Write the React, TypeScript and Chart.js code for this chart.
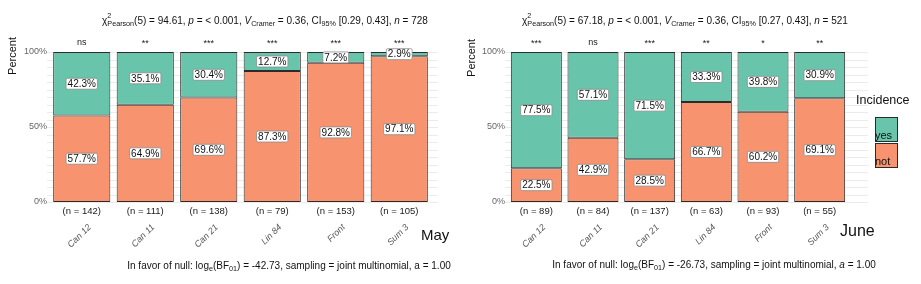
import React, { useEffect, useRef } from 'react';
import { Chart, registerables } from 'chart.js';

Chart.register(...registerables);

// ---------- data ----------
const categories = ['Can 12', 'Can 11', 'Can 21', 'Lin 84', 'Front', 'Sum 3'];
const seriesNames = ['not', 'yes'];
const mayNot = [57.7, 64.9, 69.6, 87.3, 92.8, 97.1];
const mayYes = [42.3, 35.1, 30.4, 12.7, 7.2, 2.9];
const mayCounts = [142, 111, 138, 79, 153, 105];
const maySig = ['ns', '**', '***', '***', '***', '***'];
const juneNot = [22.5, 42.9, 28.5, 66.7, 60.2, 69.1];
const juneYes = [77.5, 57.1, 71.5, 33.3, 39.8, 30.9];
const juneCounts = [89, 84, 137, 63, 93, 55];
const juneSig = ['***', 'ns', '***', '**', '*', '**'];
const yTickLabels = [0, 50, 100];
const yGridSteps = [0, 5, 10, 15, 20, 25, 30, 35, 40, 45, 50, 55, 60, 65, 70, 75, 80, 85, 90, 95, 100];
const mayStats = ['94.61', '< 0.001', '0.36', '[0.29, 0.43]', '728', '-42.73', '1.00'];
const juneStats = ['67.18', '< 0.001', '0.36', '[0.27, 0.43]', '521', '-26.73', '1.00'];

const GREEN = '#68C4AA';
const ORANGE = '#F7936F';
const EDGE = '#2b2b2b';
const FAMILY = '"Liberation Sans", Arial, Helvetica, sans-serif';

type Run = { t: string; s?: 'i' | 'sub' | 'ss'; sup?: string };

function titleRuns(st: string[]): Run[] {
  return [
    { t: 'χ' },
    { t: 'Pearson', s: 'ss', sup: '2' },
    { t: `(5) = ${st[0]}, ` },
    { t: 'p', s: 'i' },
    { t: ` = ${st[1]}, ` },
    { t: 'V', s: 'i' },
    { t: 'Cramer', s: 'sub' },
    { t: ` = ${st[2]}, CI` },
    { t: '95%', s: 'sub' },
    { t: ` ${st[3]}, ` },
    { t: 'n', s: 'i' },
    { t: ` = ${st[4]}` },
  ];
}

function captionRuns(st: string[], italicA: boolean): Run[] {
  return [
    { t: 'In favor of null: log' },
    { t: 'e', s: 'sub' },
    { t: '(BF' },
    { t: '01', s: 'sub' },
    { t: `) = ${st[5]}, sampling = joint multinomial, ` },
    { t: 'a', s: italicA ? 'i' : undefined },
    { t: ` = ${st[6]}` },
  ];
}

function drawRuns(ctx: CanvasRenderingContext2D, runs: Run[], cx: number, cy: number, size: number, color: string) {
  const subSize = size * 0.72;
  const f = (it: boolean, sz: number) => `${it ? 'italic ' : ''}${sz}px ${FAMILY}`;
  const widths = runs.map((r) => {
    if (r.s === 'sub') { ctx.font = f(false, subSize); return ctx.measureText(r.t).width; }
    if (r.s === 'ss') {
      ctx.font = f(false, subSize);
      return Math.max(ctx.measureText(r.t).width, ctx.measureText(r.sup || '').width);
    }
    ctx.font = f(r.s === 'i', size);
    return ctx.measureText(r.t).width;
  });
  const total = widths.reduce((a, b) => a + b, 0);
  let x = cx - total / 2;
  ctx.save();
  ctx.fillStyle = color;
  ctx.textBaseline = 'middle';
  ctx.textAlign = 'left';
  runs.forEach((r, i) => {
    if (r.s === 'sub') {
      ctx.font = f(false, subSize);
      ctx.fillText(r.t, x, cy + size * 0.3);
    } else if (r.s === 'ss') {
      ctx.font = f(false, subSize);
      ctx.fillText(r.t, x, cy + size * 0.3);
      ctx.fillText(r.sup || '', x, cy - size * 0.5);
    } else {
      ctx.font = f(r.s === 'i', size);
      ctx.fillText(r.t, x, cy);
    }
    x += widths[i];
  });
  ctx.restore();
}

type Decor = {
  title: Run[];
  titleX: number;
  titleY: number;
  caption: Run[];
  captionX: number;
  captionY: number;
  month: string;
  monthX: number;
  monthY: number;
  monthSize: number;
  percentX: number;
  percentY: number;
  gridRightExtra: number;
  counts: number[];
  sig: string[];
  legend: boolean;
};

function makePlugin(d: Decor) {
  return {
    id: 'decor',
    beforeDatasetsDraw(chart: any) {
      const ctx: CanvasRenderingContext2D = chart.ctx;
      const y = chart.scales.y;
      const a = chart.chartArea;
      ctx.save();
      ctx.strokeStyle = '#e6e6e6';
      ctx.lineWidth = 0.8;
      y.ticks.forEach((t: any) => {
        const py = Math.round(y.getPixelForValue(t.value)) + 0.5;
        ctx.beginPath();
        ctx.moveTo(a.left - 3, py);
        ctx.lineTo(a.right + d.gridRightExtra, py);
        ctx.stroke();
      });
      ctx.restore();
    },
    afterDatasetsDraw(chart: any) {
      const ctx: CanvasRenderingContext2D = chart.ctx;
      const a = chart.chartArea;
      const xs = chart.scales.x;
      // data labels
      chart.data.datasets.forEach((ds: any, di: number) => {
        const meta = chart.getDatasetMeta(di);
        meta.data.forEach((el: any, i: number) => {
          const v = ds.data[i];
          const cy = (el.y + el.base) / 2;
          const txt = `${v.toFixed(1)}%`;
          ctx.save();
          ctx.font = `10px ${FAMILY}`;
          const w = ctx.measureText(txt).width + 3;
          const h = 11;
          const bx = el.x - w / 2;
          const by = cy - h / 2;
          ctx.fillStyle = '#ffffff';
          ctx.strokeStyle = '#8a8a8a';
          ctx.lineWidth = 0.8;
          ctx.beginPath();
          (ctx as any).roundRect(bx, by, w, h, 1.5);
          ctx.fill();
          ctx.stroke();
          ctx.fillStyle = '#111';
          ctx.textAlign = 'center';
          ctx.textBaseline = 'middle';
          ctx.fillText(txt, el.x, cy + 0.5);
          ctx.restore();
        });
      });
      // significance and counts
      ctx.save();
      ctx.fillStyle = '#1a1a1a';
      ctx.textAlign = 'center';
      ctx.textBaseline = 'middle';
      categories.forEach((_, i) => {
        const px = xs.getPixelForValue(i);
        ctx.font = `9px ${FAMILY}`;
        ctx.fillText(d.sig[i], px, a.top - (d.sig[i] === 'ns' ? 9 : 8));
        ctx.font = `9.5px ${FAMILY}`;
        ctx.fillText(`(n = ${d.counts[i]})`, px, a.bottom + 9);
      });
      ctx.restore();
    },
    afterDraw(chart: any) {
      const ctx: CanvasRenderingContext2D = chart.ctx;
      drawRuns(ctx, d.title, d.titleX, d.titleY, 10, '#111');
      drawRuns(ctx, d.caption, d.captionX, d.captionY, 10, '#111');
      ctx.save();
      ctx.fillStyle = '#111';
      ctx.font = `${d.monthSize}px ${FAMILY}`;
      ctx.textAlign = 'left';
      ctx.textBaseline = 'middle';
      ctx.fillText(d.month, d.monthX, d.monthY);
      ctx.translate(d.percentX, d.percentY);
      ctx.rotate(-Math.PI / 2);
      ctx.font = `11px ${FAMILY}`;
      ctx.textAlign = 'center';
      ctx.fillText('Percent', 0, 0);
      ctx.restore();
      if (d.legend) {
        ctx.save();
        ctx.fillStyle = '#111';
        ctx.font = `12.5px ${FAMILY}`;
        ctx.textBaseline = 'middle';
        ctx.textAlign = 'left';
        ctx.fillText('Incidence', 396, 101);
        const items = [
          { label: seriesNames[1], color: GREEN, top: 117 },
          { label: seriesNames[0], color: ORANGE, top: 143 },
        ];
        items.forEach((it) => {
          ctx.fillStyle = it.color;
          ctx.fillRect(415, it.top, 22, 24);
          ctx.strokeStyle = EDGE;
          ctx.lineWidth = 1;
          ctx.strokeRect(415.5, it.top + 0.5, 22, 24);
          ctx.fillStyle = '#111';
          ctx.font = `11px ${FAMILY}`;
          ctx.textBaseline = 'alphabetic';
          ctx.fillText(it.label, 415, it.top + 22);
        });
        ctx.restore();
      }
    },
  };
}

function makeConfig(notV: number[], yesV: number[], leftW: number, rightEdge: number, canvasW: number, d: Decor): any {
  const ds = (label: string, data: number[], color: string) => ({
    label,
    data,
    backgroundColor: color,
    borderColor: EDGE,
    borderWidth: 1,
    borderSkipped: false,
    barPercentage: 0.9,
    categoryPercentage: 1,
  });
  return {
    type: 'bar',
    data: {
      labels: categories,
      datasets: [ds(seriesNames[0], notV, ORANGE), ds(seriesNames[1], yesV, GREEN)],
    },
    options: {
      animation: false,
      responsive: false,
      maintainAspectRatio: false,
      layout: { padding: { top: 52, right: canvasW - rightEdge, left: 0, bottom: 0 } },
      plugins: { legend: { display: false }, tooltip: { enabled: false }, title: { display: false } },
      scales: {
        x: {
          stacked: true,
          offset: true,
          grid: { display: false, drawTicks: false },
          border: { display: false },
          ticks: {
            autoSkip: false,
            maxRotation: 45,
            minRotation: 45,
            padding: 20,
            labelOffset: 8,
            color: '#5a5a5a',
            font: { family: FAMILY, size: 9, style: 'italic' },
          },
          afterFit: (s: any) => { s.height = 284 - 202; },
        },
        y: {
          stacked: true,
          min: 0,
          max: 100,
          grid: { display: false, drawTicks: false },
          border: { display: false },
          afterBuildTicks: (s: any) => { s.ticks = yGridSteps.map((v) => ({ value: v })); },
          ticks: {
            autoSkip: false,
            padding: 3,
            color: '#666',
            font: { family: FAMILY, size: 9 },
            callback: (v: any) => (yTickLabels.includes(Number(v)) ? `${v}%` : ''),
          },
          afterFit: (s: any) => { s.width = leftW; },
        },
      },
    },
    plugins: [makePlugin(d)],
  };
}

export default function App() {
  const leftRef = useRef<HTMLCanvasElement>(null);
  const rightRef = useRef<HTMLCanvasElement>(null);
  useEffect(() => {
    document.body.style.margin = '0';
    const c1 = new Chart(leftRef.current as HTMLCanvasElement, makeConfig(mayNot, mayYes, 50, 431, 460, {
      title: titleRuns(mayStats), titleX: 265, titleY: 21,
      caption: captionRuns(mayStats, false), captionX: 289, captionY: 266,
      month: 'May', monthX: 421, monthY: 236, monthSize: 15,
      percentX: 13, percentY: 56, gridRightExtra: 7,
      counts: mayCounts, sig: maySig, legend: false,
    }));
    const c2 = new Chart(rightRef.current as HTMLCanvasElement, makeConfig(juneNot, juneYes, 48, 388, 461, {
      title: titleRuns(juneStats), titleX: 225, titleY: 21,
      caption: captionRuns(juneStats, true), captionX: 254, captionY: 265,
      month: 'June', monthX: 380, monthY: 232, monthSize: 16,
      percentX: 12, percentY: 58, gridRightExtra: 20,
      counts: juneCounts, sig: juneSig, legend: true,
    }));
    return () => { c1.destroy(); c2.destroy(); };
  }, []);
  return (
    <div style={{ position: 'absolute', left: 0, top: 0, width: 921, height: 284, background: '#fff' }}>
      <canvas ref={leftRef} width={460} height={284} style={{ position: 'absolute', left: 0, top: 0, width: 460, height: 284 }} />
      <canvas ref={rightRef} width={461} height={284} style={{ position: 'absolute', left: 460, top: 0, width: 461, height: 284 }} />
    </div>
  );
}
